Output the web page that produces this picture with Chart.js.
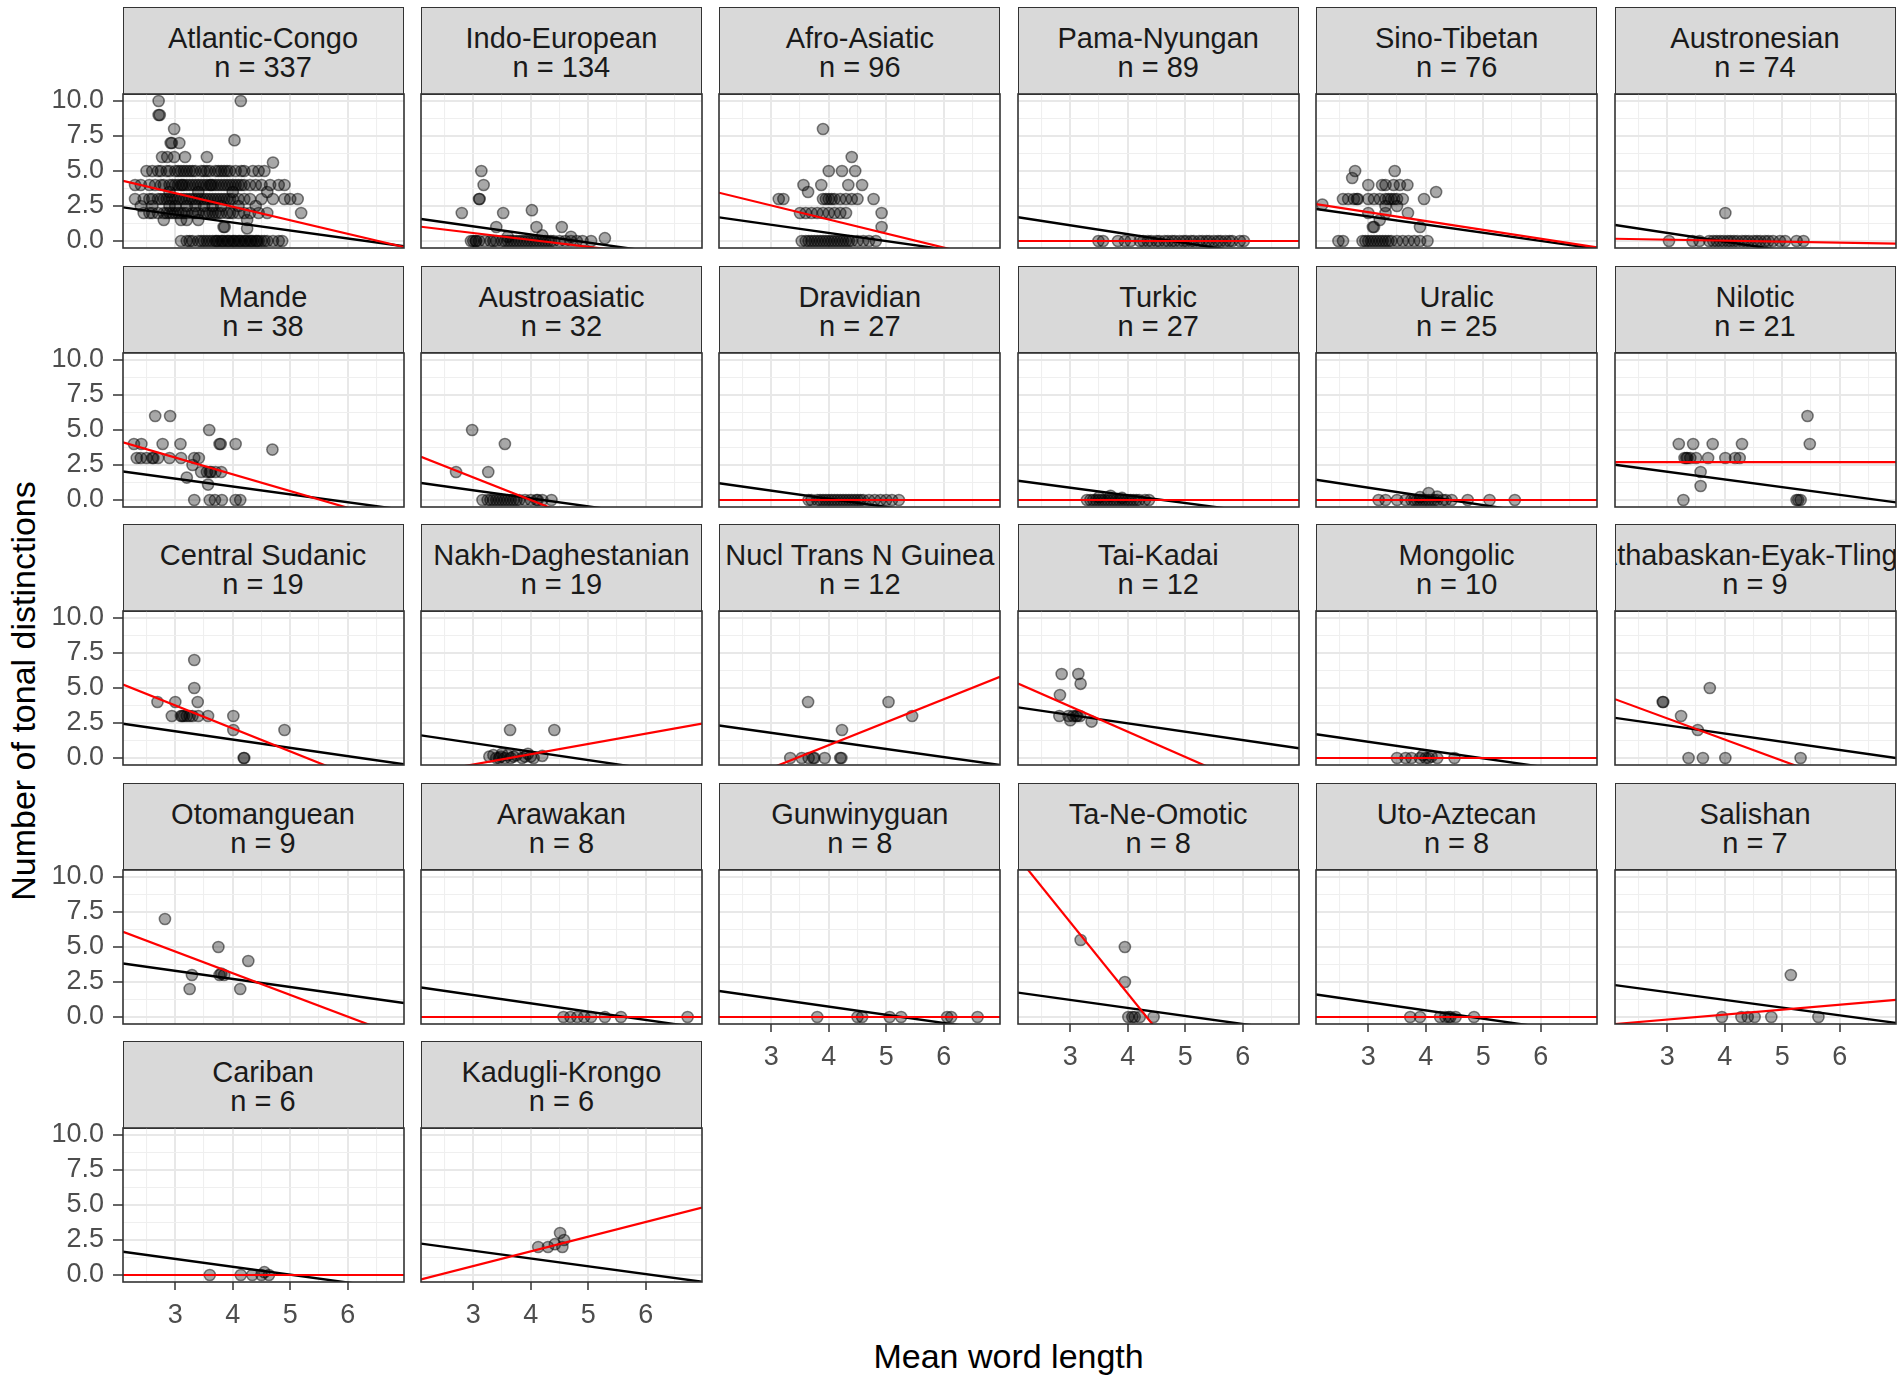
<!DOCTYPE html>
<html>
<head>
<meta charset="utf-8">
<script src="https://cdn.jsdelivr.net/npm/chart.js@4.4.1/dist/chart.umd.min.js"></script>
<style>
  body { margin: 0; background: #fff; width: 1902px; height: 1382px; overflow: hidden; position: relative;
         font-family: "Liberation Sans", Arial, sans-serif; }
  .strip { position: absolute; box-sizing: border-box; background: #d9d9d9; border: 1.5px solid #333;
           overflow: hidden; color: #1a1a1a; font-size: 29px; line-height: 29px; }
  .strip .t { position: absolute; left: 0; right: 0; top: 16px; display: flex; flex-direction: column;
              align-items: center; white-space: nowrap; }
  canvas { position: absolute; }
  .title { position: absolute; font-size: 34px; line-height: 34px; color: #000; white-space: nowrap; }
</style>
</head>
<body>
<div class="title" style="left:1008.6px; top:1339px; transform:translateX(-50%);">Mean word length</div>
<div class="title" style="left:23px; top:691px; transform:translate(-50%,-50%) rotate(-90deg);">Number of tonal distinctions</div>
<script>
// facets, in the order they appear
const families = ['Atlantic-Congo', 'Indo-European', 'Afro-Asiatic', 'Pama-Nyungan', 'Sino-Tibetan', 'Austronesian',
  'Mande', 'Austroasiatic', 'Dravidian', 'Turkic', 'Uralic', 'Nilotic',
  'Central Sudanic', 'Nakh-Daghestanian', 'Nucl Trans N Guinea', 'Tai-Kadai', 'Mongolic', 'Athabaskan-Eyak-Tlingit',
  'Otomanguean', 'Arawakan', 'Gunwinyguan', 'Ta-Ne-Omotic', 'Uto-Aztecan', 'Salishan',
  'Cariban', 'Kadugli-Krongo'];
const familyN = [337, 134, 96, 89, 76, 74, 38, 32, 27, 27, 25, 21, 19, 19, 12, 12, 10, 9, 9, 8, 8, 8, 8, 7, 6, 6];

// fitted lines: y at the left and right end of the x range
const blackStart = [2.4, 1.57, 1.69, 1.7, 2.29, 1.14, 2.04, 1.21, 1.2, 1.38, 1.45, 2.52, 2.45, 1.62, 2.32, 3.62, 1.7, 2.87, 3.82, 2.11, 1.86, 1.74, 1.61, 2.28, 1.66, 2.24];
const blackEnd   = [-0.38, -1.26, -1.16, -1.4, -0.56, -1.9, -0.71, -1.59, -1.65, -1.3, -1.6, -0.17, -0.45, -1.35, -0.5, 0.7, -1.2, 0, 1.0, -0.79, -1.0, -1.06, -1.3, -0.42, -1.09, -0.48];
const redStart   = [4.3, 1.02, 3.45, 0, 2.64, 0.16, 4.12, 3.09, 0, 0, 0, 2.7, 5.25, -1.13, -2.21, 5.32, 0, 4.2, 6.08, 0, 0, 11.4, 0, -0.5, 0, -0.32];
const redEnd     = [-0.43, -1.39, -1.45, 0, -0.46, -0.19, -1.73, -4.83, 0, 0, 0, 2.7, -2.78, 2.45, 5.8, -3.49, 0, -3.18, -1.49, 0, 0, -13.5, 0, 1.22, 0, 4.81];

// points [mean word length, tonal distinctions]
const ptsAtlanticCongo = [
  [2.71,10],[4.14,10],[2.71,9],[2.73,9],[2.98,8],[4.03,7.2],[2.92,7],[2.94,7],[3.07,7],
  [2.77,6],[2.86,6],[2.98,6],[3.17,6],[3.55,6],[4.7,5.6],
  [2.5,5],[2.6,5],[2.7,5],[2.75,5],[2.85,5],[2.9,5],[3.0,5],[3.05,5],[3.1,5],[3.15,5],[3.2,5],[3.25,5],[3.3,5],[3.35,5],
  [3.45,5],[3.5,5],[3.55,5],[3.6,5],[3.7,5],[3.75,5],[3.8,5],[3.85,5],[3.9,5],[3.95,5],[4.05,5],[4.15,5],[4.2,5],
  [4.35,5],[4.45,5],[4.55,5],
  [2.3,4],[2.4,4],[2.55,4],[2.65,4],[2.75,4],[2.8,4],[2.9,4],[2.95,4],[3.0,4],[3.05,4],[3.1,4],[3.12,4],[3.15,4],
  [3.2,4],[3.25,4],[3.3,4],[3.35,4],[3.4,4],[3.45,4],[3.5,4],[3.55,4],[3.6,4],[3.62,4],[3.65,4],[3.7,4],[3.75,4],
  [3.8,4],[3.85,4],[3.9,4],[3.95,4],[4.0,4],[4.05,4],[4.1,4],[4.15,4],[4.2,4],[4.3,4],[4.4,4],[4.5,4],[4.65,4],
  [4.8,4],[4.9,4],
  [2.9,3.5],[3.4,3.5],[4.0,3.5],[4.6,3.5],
  [2.3,3],[2.45,3],[2.55,3],[2.6,3],[2.7,3],[2.75,3],[2.8,3],[2.85,3],[2.9,3],[2.95,3],[3.0,3],[3.05,3],[3.1,3],
  [3.15,3],[3.2,3],[3.25,3],[3.3,3],[3.35,3],[3.4,3],[3.45,3],[3.5,3],[3.55,3],[3.6,3],[3.65,3],[3.7,3],[3.75,3],
  [3.8,3],[3.85,3],[3.9,3],[3.95,3],[4.0,3],[4.1,3],[4.2,3],[4.3,3],[4.5,3],[4.7,3],[4.9,3],[5.0,3],[5.13,3],
  [2.4,2.5],[2.6,2.5],[2.9,2.5],[3.0,2.5],[3.2,2.5],[3.35,2.5],[3.5,2.5],[3.65,2.5],[3.8,2.5],[4.1,2.5],[4.4,2.5],
  [2.45,2],[2.55,2],[2.6,2],[2.7,2],[2.8,2],[2.85,2],[2.9,2],[2.95,2],[3.0,2],[3.05,2],[3.1,2],[3.15,2],[3.2,2],
  [3.3,2],[3.35,2],[3.4,2],[3.5,2],[3.55,2],[3.6,2],[3.65,2],[3.7,2],[3.75,2],[3.8,2],[3.9,2],[3.95,2],[4.0,2],
  [4.1,2],[4.2,2],[4.3,2],[4.45,2],[4.6,2],[5.19,2],
  [2.8,1.5],[3.1,1.5],[3.2,1.5],[3.4,1.5],[4.25,1.5],[3.84,1],[3.86,1],[4.25,0.9],
  [3.1,0],[3.2,0],[3.25,0],[3.3,0],[3.4,0],[3.45,0],[3.5,0],[3.55,0],[3.6,0],[3.65,0],[3.7,0],[3.72,0],[3.75,0],
  [3.8,0],[3.82,0],[3.85,0],[3.9,0],[3.92,0],[3.95,0],[4.0,0],[4.02,0],[4.05,0],[4.1,0],[4.12,0],[4.15,0],[4.2,0],
  [4.22,0],[4.25,0],[4.3,0],[4.32,0],[4.35,0],[4.4,0],[4.42,0],[4.45,0],[4.5,0],[4.55,0],[4.6,0],[4.7,0],[4.8,0],
  [4.86,0]
];
const ptsIndoEuropean = [
  [3.14,5],[3.18,4],[3.1,3],[3.11,3],[2.8,2],[3.52,2],[4.02,2.2],[3.4,1],[4.1,1],[4.54,1],[5.29,0.2],[3.6,0.3],[4.2,0.4],[4.7,0.3],
  [2.96,0],[3.0,0],[3.04,0],[3.05,0],[3.1,0],[3.2,0],[3.3,0],[3.35,0],[3.4,0],[3.5,0],[3.55,0],[3.6,0],[3.65,0],[3.7,0],
  [3.75,0],[3.8,0],[3.85,0],[3.9,0],[3.95,0],[4.0,0],[4.05,0],[4.1,0],[4.15,0],[4.2,0],[4.25,0],[4.3,0],[4.35,0],[4.4,0],
  [4.5,0],[4.6,0],[4.7,0],[4.8,0],[4.9,0],[5.05,0]
];
const ptsAfroAsiatic = [
  [3.9,8],[4.4,6],[4.0,5],[4.23,5],[4.46,5],[3.56,4],[3.87,4],[4.34,4],[4.58,4],[3.64,3.5],[3.13,3],[3.21,3],
  [3.9,3],[3.95,3],[4.0,3],[4.05,3],[4.1,3],[4.2,3],[4.3,3],[4.4,3],[4.5,3],[4.78,3],[4.92,2],
  [3.5,2],[3.6,2],[3.7,2],[3.8,2],[3.9,2],[4.0,2],[4.1,2],[4.2,2],[4.3,2],[4.92,1],
  [3.53,0],[3.6,0],[3.65,0],[3.7,0],[3.75,0],[3.8,0],[3.85,0],[3.9,0],[3.95,0],[4.0,0],[4.05,0],[4.1,0],[4.15,0],
  [4.2,0],[4.25,0],[4.3,0],[4.35,0],[4.4,0],[4.5,0],[4.6,0],[4.7,0],[4.82,0]
];
const ptsPamaNyungan = [
  [3.49,0],[3.57,0],[3.83,0],[3.95,0],[4.05,0],[4.21,0],[4.27,0],[4.35,0],[4.41,0],[4.5,0],[4.55,0],[4.64,0],[4.7,0],
  [4.77,0],[4.82,0],[4.9,0],[4.97,0],[5.02,0],[5.1,0],[5.15,0],[5.24,0],[5.3,0],[5.37,0],[5.42,0],[5.5,0],[5.57,0],
  [5.62,0],[5.7,0],[5.77,0],[5.82,0],[5.95,0],[6.02,0]
];
const ptsSinoTibetan = [
  [2.77,5],[3.46,5],[2.72,4.5],[3.0,4],[3.24,4],[3.3,4],[3.44,4],[3.55,4],[3.68,4],[4.18,3.5],[3.97,3],
  [2.56,3],[2.65,3],[2.75,3],[2.8,3],[2.82,3],[3.0,3],[3.1,3],[3.2,3],[3.3,3],[3.35,3],[3.4,3],[3.45,3],[3.5,3],[3.6,3],
  [2.2,2.6],[3.3,2.5],[3.5,2.5],[3.0,2],[3.3,2],[3.69,2],[3.2,1.5],[3.08,1],[3.1,1],[3.9,1],
  [2.48,0],[2.56,0],[2.9,0],[2.95,0],[3.0,0],[3.05,0],[3.1,0],[3.15,0],[3.2,0],[3.25,0],[3.3,0],[3.35,0],[3.4,0],
  [3.5,0],[3.6,0],[3.7,0],[3.8,0],[3.9,0],[4.03,0]
];
const ptsAustronesian = [
  [4.01,2],[3.03,0],[3.44,0],[3.56,0],[3.73,0],[3.8,0],[3.86,0],[3.92,0],[3.98,0],[4.05,0],[4.1,0],[4.16,0],[4.22,0],
  [4.3,0],[4.36,0],[4.42,0],[4.5,0],[4.56,0],[4.62,0],[4.7,0],[4.76,0],[4.84,0],[4.96,0],[5.05,0],[5.25,0],[5.37,0]
];
const ptsMande = [
  [2.65,6],[2.91,6],[3.59,5],[2.28,4],[2.41,4],[2.78,4],[3.09,4],[3.77,4],[3.79,4],[4.05,4],[4.69,3.6],
  [2.33,3],[2.4,3],[2.5,3],[2.6,3],[2.62,3],[2.7,3],[2.9,3],[3.1,3],[3.33,3],[3.41,3],[3.3,2.5],
  [3.45,2],[3.55,2],[3.6,2],[3.62,2],[3.7,2],[3.8,2],[3.2,1.6],[3.57,1.1],
  [3.33,0],[3.6,0],[3.69,0],[3.81,0],[4.05,0],[4.13,0]
];
const ptsAustroasiatic = [
  [2.98,5],[3.55,4],[2.7,2],[3.26,2],
  [3.16,0],[3.25,0],[3.3,0],[3.35,0],[3.4,0],[3.45,0],[3.5,0],[3.55,0],[3.6,0],[3.65,0],[3.7,0],[3.75,0],[3.8,0],
  [3.9,0],[4.0,0],[4.1,0],[4.12,0],[4.2,0],[4.36,0]
];
const ptsDravidian = [
  [3.65,0],[3.7,0],[3.8,0],[3.85,0],[3.9,0],[3.95,0],[4.0,0],[4.05,0],[4.1,0],[4.15,0],[4.2,0],[4.25,0],[4.3,0],
  [4.35,0],[4.4,0],[4.45,0],[4.5,0],[4.55,0],[4.6,0],[4.7,0],[4.8,0],[4.9,0],[5.0,0],[5.1,0],[5.22,0]
];
const ptsTurkic = [
  [3.29,0],[3.35,0],[3.4,0],[3.45,0],[3.5,0],[3.55,0],[3.6,0],[3.65,0],[3.7,0],[3.75,0],[3.8,0],[3.85,0],[3.9,0],
  [3.95,0],[4.0,0],[4.05,0],[4.1,0],[4.15,0],[4.2,0],[4.3,0],[4.37,0],[3.5,0.2],[3.7,0.3],[3.9,0.15]
];
const ptsUralic = [
  [3.18,0],[3.3,0],[3.5,0],[3.65,0],[3.75,0],[3.8,0],[3.85,0],[3.9,0],[3.95,0],[4.0,0],[4.05,0],[4.1,0],[4.15,0],
  [4.2,0],[4.3,0],[4.35,0],[4.45,0],[4.73,0],[5.11,0],[5.55,0],[4.05,0.5],[3.9,0.2],[4.2,0.25]
];
const ptsNilotic = [
  [5.44,6],[5.48,4],[3.2,4],[3.45,4],[3.79,4],[4.3,4],[3.3,3],[3.33,3],[3.35,3],[3.4,3],[3.5,3],[3.71,3],[4.01,3],
  [4.18,3],[4.26,3],[3.58,2],[3.58,1],[3.28,0],[5.25,0],[5.28,0],[5.32,0]
];
const ptsCentralSudanic = [
  [3.33,7],[3.33,5],[2.69,4],[3.0,4],[3.39,4],[2.94,3],[3.1,3],[3.12,3],[3.15,3],[3.2,3],[3.25,3],[3.3,3],[3.4,3],
  [3.57,3],[4.01,3],[4.01,2],[4.9,2],[4.19,0],[4.2,0]
];
const ptsNakhDaghestanian = [
  [3.64,2],[4.41,2],[3.28,0.1],[3.35,0.2],[3.4,0],[3.45,0],[3.5,0.3],[3.55,0],[3.6,0.2],[3.65,0],[3.7,0.1],
  [3.75,0.2],[3.85,0],[3.9,0.1],[3.95,0.3],[4.0,0.1],[4.05,0],[4.2,0.15],[3.48,0.1]
];
const ptsNuclTransNGuinea = [
  [3.64,4],[5.04,4],[5.45,3],[4.23,2],[3.33,0],[3.53,0],[3.65,0],[3.73,0],[3.75,0],[3.93,0],[4.2,0],[4.22,0]
];
const ptsTaiKadai = [
  [2.85,6],[3.14,6],[3.18,5.3],[2.82,4.5],[2.81,3],[2.97,3],[3.05,3],[3.1,3],[3.12,3],[3.17,3],[3.0,2.7],[3.37,2.6]
];
const ptsMongolic = [
  [3.5,0],[3.65,0],[3.75,0],[3.9,0],[3.95,0.2],[4.0,0],[4.05,0],[4.1,0.1],[4.2,0],[4.5,0]
];
const ptsAthabaskan = [
  [2.92,4],[2.93,4],[3.74,5],[3.24,3],[3.53,2],[3.37,0],[3.62,0],[4.01,0],[5.32,0]
];
const ptsOtomanguean = [
  [2.82,7],[3.75,5],[4.27,4],[3.29,3],[3.77,3],[3.8,3.1],[3.85,3],[3.25,2],[4.13,2]
];
const ptsArawakan = [[4.57,0],[4.69,0],[4.81,0],[4.93,0],[5.05,0],[5.29,0],[5.57,0],[6.73,0]];
const ptsGunwinyguan = [[3.8,0],[4.5,0],[4.58,0],[5.06,0],[5.26,0],[6.06,0],[6.13,0],[6.59,0]];
const ptsTaNeOmotic = [[3.18,5.5],[3.95,5],[3.95,2.5],[4.01,0],[4.08,0],[4.12,0],[4.21,0],[4.45,0]];
const ptsUtoAztecan = [[3.73,0],[3.9,0],[4.25,0],[4.34,0],[4.4,0],[4.43,0],[4.52,0],[4.84,0]];
const ptsSalishan = [[5.15,3],[3.95,0],[4.29,0],[4.4,0],[4.52,0],[4.81,0],[5.63,0]];
const ptsCariban = [[3.6,0],[4.14,0],[4.34,0],[4.5,0],[4.55,0.2],[4.63,0]];
const ptsKadugliKrongo = [[4.13,2],[4.3,2],[4.42,2.2],[4.51,3],[4.55,2],[4.58,2.5]];

const familyPoints = [ptsAtlanticCongo, ptsIndoEuropean, ptsAfroAsiatic, ptsPamaNyungan, ptsSinoTibetan, ptsAustronesian,
  ptsMande, ptsAustroasiatic, ptsDravidian, ptsTurkic, ptsUralic, ptsNilotic,
  ptsCentralSudanic, ptsNakhDaghestanian, ptsNuclTransNGuinea, ptsTaiKadai, ptsMongolic, ptsAthabaskan,
  ptsOtomanguean, ptsArawakan, ptsGunwinyguan, ptsTaNeOmotic, ptsUtoAztecan, ptsSalishan,
  ptsCariban, ptsKadugliKrongo];

// axes
const X_MIN = 2.09, X_MAX = 6.98, Y_MIN = -0.5, Y_MAX = 10.5;
const xGrid = [2.5, 3, 3.5, 4, 4.5, 5, 5.5, 6, 6.5];
const xLabels = { 3: '3', 4: '4', 5: '5', 6: '6' };
const yGrid = [0, 1.25, 2.5, 3.75, 5, 6.25, 7.5, 8.75, 10];
const yLabels = { 0: '0.0', 2.5: '2.5', 5: '5.0', 7.5: '7.5', 10: '10.0' };

// layout (px)
const COLS = 6;
const COL_LEFT = 122.5, COL_STEP = 298.4, PANEL_W = 281;
const ROW_TOP = 7.3, ROW_STEP = 258.4, STRIP_H = 87, PANEL_H = 154;
const L = 120, T = 40, R = 40, B = 70;
const FONT = '"Liberation Sans", Arial, sans-serif';

const panelBorder = {
  id: 'panelBorder',
  afterDraw(chart) {
    const { ctx, chartArea: a } = chart;
    ctx.save();
    ctx.strokeStyle = '#333333';
    ctx.lineWidth = 1.6;
    ctx.strokeRect(a.left, a.top, a.right - a.left, a.bottom - a.top);
    ctx.restore();
  }
};

families.forEach((name, i) => {
  const r = Math.floor(i / COLS), c = i % COLS;
  const left = COL_LEFT + c * COL_STEP;
  const stripTop = ROW_TOP + r * ROW_STEP;
  const panelTop = stripTop + STRIP_H;
  const showY = c === 0;
  const showX = i + COLS >= families.length;

  const strip = document.createElement('div');
  strip.className = 'strip';
  strip.style.left = left + 'px';
  strip.style.top = stripTop + 'px';
  strip.style.width = PANEL_W + 'px';
  strip.style.height = (STRIP_H + 0.8) + 'px';
  strip.innerHTML = '<div class="t"><div>' + name + '</div><div>n = ' + familyN[i] + '</div></div>';
  document.body.appendChild(strip);

  const canvas = document.createElement('canvas');
  const cw = L + PANEL_W + R, ch = T + PANEL_H + B;
  canvas.width = cw; canvas.height = ch;
  canvas.style.width = cw + 'px'; canvas.style.height = ch + 'px';
  canvas.style.left = (left - L) + 'px';
  canvas.style.top = (panelTop - T) + 'px';
  document.body.appendChild(canvas);

  new Chart(canvas.getContext('2d'), {
    type: 'scatter',
    data: {
      datasets: [
        {
          type: 'line', order: 1,
          data: [{ x: X_MIN, y: redStart[i] }, { x: X_MAX, y: redEnd[i] }],
          borderColor: '#ff0000', borderWidth: 2.2, pointRadius: 0, tension: 0, clip: 0
        },
        {
          type: 'line', order: 2,
          data: [{ x: X_MIN, y: blackStart[i] }, { x: X_MAX, y: blackEnd[i] }],
          borderColor: '#000000', borderWidth: 2.4, pointRadius: 0, tension: 0, clip: 0
        },
        {
          order: 3,
          data: familyPoints[i].map(p => ({ x: p[0], y: p[1] })),
          backgroundColor: 'rgba(0,0,0,0.34)',
          borderColor: 'rgba(0,0,0,0.5)',
          borderWidth: 1.5,
          pointRadius: 5.6,
          pointHoverRadius: 5.6
        }
      ]
    },
    options: {
      responsive: false,
      animation: false,
      events: [],
      layout: { padding: { top: T, right: R, left: 0, bottom: 0 } },
      plugins: { legend: { display: false }, tooltip: { enabled: false } },
      scales: {
        x: {
          type: 'linear', min: X_MIN, max: X_MAX,
          afterBuildTicks: s => { s.ticks = xGrid.map(v => ({ value: v })); },
          afterFit: s => { s.height = B; },
          border: { display: false },
          grid: {
            color: ctx => (xLabels[ctx.tick.value] ? '#e8e8e8' : '#efefef'),
            lineWidth: ctx => (xLabels[ctx.tick.value] ? 2 : 1.1),
            drawTicks: showX, tickLength: 8, tickWidth: 1.5,
            tickColor: ctx => (xLabels[ctx.tick.value] ? '#333333' : 'rgba(0,0,0,0)')
          },
          ticks: {
            display: showX, autoSkip: false, maxRotation: 0, padding: 9, color: '#4d4d4d',
            font: { size: 27, family: FONT },
            callback: v => xLabels[v] || ''
          }
        },
        y: {
          type: 'linear', min: Y_MIN, max: Y_MAX,
          afterBuildTicks: s => { s.ticks = yGrid.map(v => ({ value: v })); },
          afterFit: s => { s.width = L; },
          border: { display: false },
          grid: {
            color: ctx => (yLabels[ctx.tick.value] ? '#e8e8e8' : '#efefef'),
            lineWidth: ctx => (yLabels[ctx.tick.value] ? 2 : 1.1),
            drawTicks: showY, tickLength: 10, tickWidth: 1.5,
            tickColor: ctx => (yLabels[ctx.tick.value] ? '#333333' : 'rgba(0,0,0,0)')
          },
          ticks: {
            display: showY, autoSkip: false, padding: 9, color: '#4d4d4d',
            font: { size: 27, family: FONT },
            callback: v => yLabels[v] || ''
          }
        }
      }
    },
    plugins: [panelBorder]
  });
});
</script>
</body>
</html>
